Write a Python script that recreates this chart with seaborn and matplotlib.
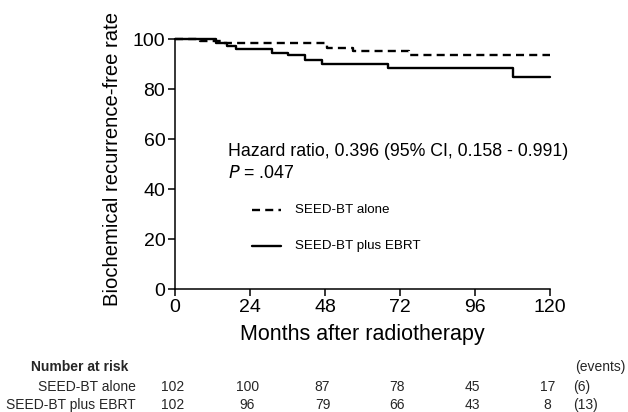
import matplotlib
matplotlib.use("Agg")
import matplotlib.pyplot as plt
import seaborn as sns
import pandas as pd
from matplotlib.lines import Line2D

# ---- data ----
months_alone = [0, 8, 15, 48.5, 57, 75, 120]
rate_alone = [100, 99.2, 98.4, 96.4, 95.4, 93.8, 93.8]
months_ebrt = [0, 13, 16.5, 19.5, 31, 36, 41.5, 47, 68, 108, 120]
rate_ebrt = [100, 98.5, 97.3, 96.2, 94.6, 93.5, 91.5, 90.0, 88.6, 84.8, 84.8]

group_names = ["SEED-BT alone", "SEED-BT plus EBRT"]
risk_times = [0, 24, 48, 72, 96, 120]
risk_alone = [102, 100, 87, 78, 45, 17]
risk_ebrt = [102, 96, 79, 66, 43, 8]
events = ["(6)", "(13)"]
x_ticks = [0, 24, 48, 72, 96, 120]
y_ticks = [0, 20, 40, 60, 80, 100]

sns.set_theme(style="ticks")
plt.rcParams["font.family"] = ["Liberation Sans", "DejaVu Sans"]

df = pd.concat([
    pd.DataFrame({"month": months_alone, "rate": rate_alone, "group": group_names[0]}),
    pd.DataFrame({"month": months_ebrt, "rate": rate_ebrt, "group": group_names[1]}),
])

W, H = 628, 412
fig = plt.figure(figsize=(W / 100, H / 100), dpi=100)
ax = fig.add_axes([175 / W, 1 - 289 / H, 375 / W, 250 / H])

lw = 1.7
dash = (3.4, 2.2)
sns.lineplot(data=df, x="month", y="rate", style="group",
             dashes={group_names[0]: dash, group_names[1]: ""},
             color="black", linewidth=lw, drawstyle="steps-post",
             estimator=None, sort=False, legend=False, ax=ax, clip_on=False)

ax.set_xlim(0, 120)
ax.set_ylim(0, 100)
ax.set_xticks(x_ticks)
ax.set_yticks(y_ticks)
for s in ["top", "right"]:
    ax.spines[s].set_visible(False)
for s in ["left", "bottom"]:
    ax.spines[s].set_linewidth(1.1)
    ax.spines[s].set_color("black")
ax.tick_params(axis="both", direction="out", length=5, width=1.1, colors="black",
               labelsize=14, pad=2)
ax.set_xlabel("Months after radiotherapy", fontsize=15.5, labelpad=6, color="black")
ax.set_ylabel("Biochemical recurrence-free rate", fontsize=14.6, color="black")
ax.yaxis.set_label_coords(-0.142, 0.52)

# annotation
ax.text(17, 55.2, "Hazard ratio, 0.396 (95% CI, 0.158 - 0.991)", fontsize=12.8,
        va="center", ha="left", color="black")
ax.text(17, 46.2, r"$\it{P}$ = .047", fontsize=12.8, va="center", ha="left", color="black")

# legend
leg_y = [31.6, 17.2]
for gname, ly, ls in zip(group_names, leg_y, [(0, dash), "-"]):
    ax.add_line(Line2D([24.6, 34.0], [ly, ly], color="black", linewidth=lw,
                       linestyle=ls, clip_on=False))
    ax.text(38.5, ly, gname, fontsize=9.6, va="center", ha="left", color="black")

# number at risk table
trans = matplotlib.transforms.blended_transform_factory(ax.transData, fig.transFigure)
fig.text(31 / W, 1 - 367 / H, "Number at risk", fontsize=10, fontweight="bold",
         va="center", ha="left")
fig.text(575 / W, 1 - 367 / H, "(events)", fontsize=10, va="center", ha="left")
row_y = [387, 405]
for gname, counts, ev, ry in zip(group_names, [risk_alone, risk_ebrt], events, row_y):
    fy = 1 - ry / H
    fig.text(136 / W, fy, gname, fontsize=10, va="center", ha="right")
    for t, c in zip(risk_times, counts):
        ax.text(t - 0.8, fy, str(c), fontsize=10, va="center", ha="center",
                transform=trans, clip_on=False)
    fig.text(573 / W, fy, ev, fontsize=10, va="center", ha="left")

fig.savefig("out.png", dpi=100)
